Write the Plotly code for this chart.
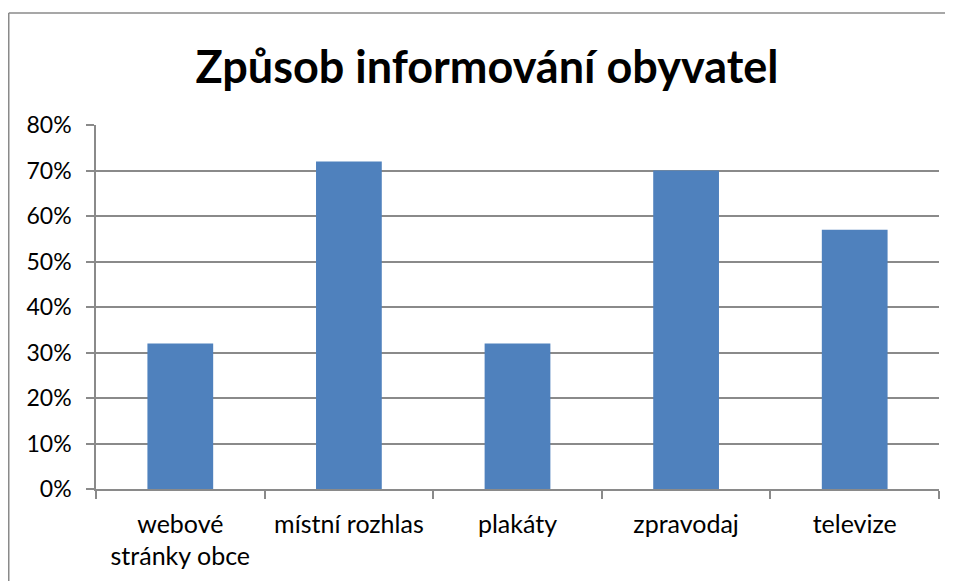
import plotly.graph_objects as go

categories = ["webové<br>stránky obce", "místní rozhlas", "plakáty", "zpravodaj", "televize"]
values = [0.32, 0.72, 0.32, 0.70, 0.57]
y_ticks = [0, 0.1, 0.2, 0.3, 0.4, 0.5, 0.6, 0.7, 0.8]
y_labels = ["0%", "10%", "20%", "30%", "40%", "50%", "60%", "70%", "80%"]

OFF = 8  # default page body margin
W, H = 953 - OFF, 581 - OFF
L, R, T, B = 96 - OFF, 14, 125 - OFF, 92
pw, ph = W - L - R, H - T - B

fnt = "Lato, 'Open Sans', sans-serif"
grid = "#8a8a8a"

fig = go.Figure(go.Bar(x=categories, y=values, marker=dict(color="#4f81bd", line=dict(width=0)), width=0.39))

fig.update_layout(
    width=W, height=H,
    margin=dict(l=L, r=R, t=T, b=B),
    paper_bgcolor="white", plot_bgcolor="white",
    showlegend=False,
    font=dict(family=fnt, size=23, color="black"),
    title=dict(text="<b>Způsob informování obyvatel</b>", x=(487 - OFF - L) / pw, xref="paper", xanchor="center",
               y=1 - (67 - OFF) / H, yref="container", yanchor="middle",
               font=dict(family=fnt, size=45, color="black")),
    xaxis=dict(type="category", showgrid=False, showline=True, linecolor=grid, linewidth=1.5,
               ticks="outside", tickson="boundaries", ticklen=8, tickcolor=grid, tickwidth=1.5,
               ticklabelstandoff=12, tickfont=dict(size=25)),
    yaxis=dict(range=[0, 0.8], tickvals=y_ticks, ticktext=y_labels, showgrid=True, gridcolor=grid,
               gridwidth=1.5, showline=True, linecolor=grid, linewidth=1.5, ticks="outside", ticklen=8,
               tickcolor=grid, tickwidth=1.5, zeroline=False, ticklabelstandoff=10, tickfont=dict(size=23)),
)

# outer chart border (left and top edges visible)
x0 = (0.75 - L) / pw
y1 = 1 + (T - (13 - OFF)) / ph
border = dict(color="#8a8a8a", width=1.5)
fig.add_shape(type="line", xref="paper", yref="paper", x0=x0, x1=1 + R / pw, y0=y1, y1=y1, line=border)
fig.add_shape(type="line", xref="paper", yref="paper", x0=x0, x1=x0, y0=-B / ph, y1=y1, line=border)

fig.write_html("out.html")
